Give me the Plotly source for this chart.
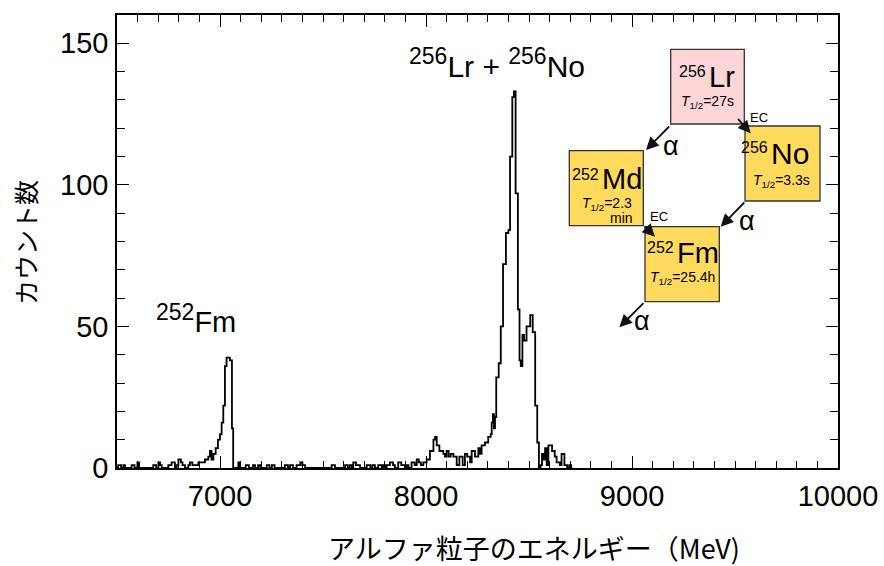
import plotly.graph_objects as go

# ---- data: step histogram (left bin edge in keV, counts) ----
energy_edges = [6500, 6506, 6520, 6531, 6539, 6571, 6585, 6599, 6607,
                6676, 6690, 6701, 6709, 6717, 6749, 6765, 6781, 6790, 6798, 6810, 6818, 6830,
                6846, 6854, 6866, 6895, 6927, 6943, 6951, 6959, 6968, 6979, 6990, 7000, 7008,
                7016, 7024, 7032, 7048, 7058, 7064,
                7089, 7097, 7125, 7140, 7160, 7170, 7185, 7195, 7227, 7240, 7252, 7265,
                7315, 7330, 7340, 7354, 7372, 7390, 7400, 7413, 7542, 7558, 7607, 7620,
                7630, 7640, 7647, 7660, 7680, 7712, 7730, 7740, 7752, 7768, 7785, 7793,
                7801, 7809, 7825, 7840, 7849, 7865, 7880, 7898, 7906, 7915, 7930, 7945,
                7955, 7965, 7975, 7987, 8003, 8019, 8036, 8044, 8052, 8065, 8084, 8092,
                8100, 8110, 8120, 8133, 8149, 8162, 8178, 8189, 8200, 8214, 8222, 8238,
                8254, 8262, 8270, 8286, 8302, 8314, 8319, 8325, 8330, 8335, 8341, 8353,
                8363, 8374, 8388, 8400, 8408, 8419, 8427, 8435, 8446, 8454, 8460, 8468,
                8476, 8488, 8506, 8518, 8530, 8540, 8548, 8556, 8563, 8570, 8578, 8586,
                8594, 8612, 8625, 8634, 8650, 8658, 8672, 8685, 8695, 8705]
counts = [0, 1, 0, 1, 0, 1, 0, 2, 0,
          1, 0, 2, 1, 0, 1, 2, 0, 1, 3, 2, 1, 0,
          1, 2, 1, 2, 3, 4, 6, 3, 5, 7, 10, 12, 16,
          22, 36, 39, 38, 14, 0,
          2, 0, 1, 0, 1, 0, 1, 0, 1, 0, 1, 0,
          1, 0, 1, 0, 1, 2, 1, 0, 1, 0, 1, 0,
          1, 0, 2, 1, 0, 1, 0, 1, 0, 1, 0, 1,
          0, 1, 2, 1, 0, 2, 1, 0, 1, 0, 2, 1,
          3, 2, 1, 2, 3, 6, 10, 11, 8, 6, 5, 4,
          6, 4, 5, 4, 1, 4, 1, 5, 4, 2, 6, 4,
          7, 5, 8, 9, 11, 12, 16, 19, 14, 18, 32, 37,
          50, 72, 83, 84, 110, 131, 133, 97, 56, 38, 36, 47,
          45, 50, 54, 48, 22, 9, 0, 1, 5, 3, 7, 1,
          8, 6, 4, 2, 1, 5, 1, 0, 1, 0]
last_edge = 8710

x_ticks = [7000, 8000, 9000, 10000]
y_ticks = [0, 50, 100, 150]

W, H = 884, 566
L, R, T, B = 117, 838, 15, 468


def px(x):
    return (x - L) / (R - L)


def py(y):
    return (B - y) / (B - T)


FONT = "Liberation Sans, Arial, sans-serif"
JP = "Noto Sans CJK JP, sans-serif"

fig = go.Figure()
fig.add_trace(go.Scatter(
    x=energy_edges + [last_edge], y=counts + [0],
    mode="lines", line=dict(color="black", width=1.8, shape="hv"),
    hoverinfo="skip", showlegend=False))

fig.update_layout(
    width=W, height=H, plot_bgcolor="white", paper_bgcolor="white",
    margin=dict(l=L, r=W - R, t=T, b=H - B, autoexpand=False),
    font=dict(family=FONT, color="black"),
    showlegend=False,
)
fig.update_xaxes(range=[6500, 10000], tickvals=x_ticks, ticktext=[str(v) for v in x_ticks],
                 ticks="inside", ticklen=12, tickwidth=1.2, tickcolor="black",
                 minor=dict(dtick=100, ticks="inside", ticklen=7, tickwidth=1.2, tickcolor="black"),
                 showline=True, linecolor="black", linewidth=1.5, mirror="allticks",
                 showgrid=False, zeroline=False, tickfont=dict(size=29, family=FONT),
                 ticklabelstandoff=1, automargin=False)
fig.update_yaxes(range=[0, 160], tickvals=y_ticks, ticktext=[str(v) for v in y_ticks],
                 ticks="inside", ticklen=12, tickwidth=1.2, tickcolor="black",
                 minor=dict(dtick=10, ticks="inside", ticklen=8, tickwidth=1.2, tickcolor="black"),
                 showline=True, linecolor="black", linewidth=1.5, mirror="allticks",
                 showgrid=False, zeroline=False, tickfont=dict(size=29, family=FONT),
                 ticklabelstandoff=1, automargin=False)

ann = []
# axis titles
ann.append(dict(x=px(534), y=py(547), xref="paper", yref="paper", showarrow=False,
                text="アルファ粒子のエネルギー（MeV)", font=dict(size=27, family=JP),
                xanchor="center", yanchor="middle"))
ann.append(dict(x=px(25), y=py(243), xref="paper", yref="paper", showarrow=False,
                text="カウント数", textangle=-90, font=dict(size=25, family=JP),
                xanchor="center", yanchor="middle"))
# peak labels
SUP = '<sup><span style="font-size:23px">%s</span></sup>'
ann.append(dict(x=px(196), y=py(318), xref="paper", yref="paper", showarrow=False,
                text=SUP % "252" + "Fm", font=dict(size=29), xanchor="center", yanchor="middle"))
ann.append(dict(x=px(497), y=py(63), xref="paper", yref="paper", showarrow=False,
                text=SUP % "256" + "Lr + " + SUP % "256" + "No", font=dict(size=30),
                xanchor="center", yanchor="middle"))

shapes = []
boxes = [
    # x0, y0, x1, y1, fill, mass, symbol, split x, symbol y, symbol size, halflife lines
    (670.7, 49.3, 744.3, 124.0, "#FFD6D6", "256", "Lr", 707, 77, 29, [("<i>T</i><sub>1/2</sub>=27s", 707, 102)]),
    (745.0, 126.0, 820.0, 201.0, "#FFDA5C", "256", "No", 769, 153, 30, [("<i>T</i><sub>1/2</sub>=3.3s", 781, 181)]),
    (569.3, 150.7, 643.3, 225.7, "#FFDA5C", "252", "Md", 600, 179, 29, [("<i>T</i><sub>1/2</sub>=2.3", 607, 204), ("min", 621, 218)]),
    (645.0, 226.7, 719.3, 301.7, "#FFDA5C", "252", "Fm", 675, 253, 29, [("<i>T</i><sub>1/2</sub>=25.4h", 682, 278)]),
]
for x0, y0, x1, y1, fill, mass, sym, sx, sy, ss, hl in boxes:
    shapes.append(dict(type="rect", xref="paper", yref="paper",
                       x0=px(x0), x1=px(x1), y0=py(y1), y1=py(y0),
                       fillcolor=fill, line=dict(color="#333333", width=1.3), layer="above"))
    ann.append(dict(x=px(sx), y=py(sy), xref="paper", yref="paper", showarrow=False,
                    text=sym, font=dict(size=ss), xanchor="left", yanchor="middle"))
    ann.append(dict(x=px(sx + 1), y=py(sy - 5), xref="paper", yref="paper", showarrow=False,
                    text=mass, font=dict(size=16), xanchor="right", yanchor="middle"))
    for t, hx, hy in hl:
        ann.append(dict(x=px(hx), y=py(hy), xref="paper", yref="paper", showarrow=False,
                        text=t, font=dict(size=14), xanchor="center", yanchor="middle"))

arrows = [
    # head x,y ; tail x,y
    ((646, 150), (670.7, 125)),
    ((750.7, 133.3), (736.7, 117.3)),
    ((720.7, 226.7), (745.7, 201)),
    ((655, 236.7), (643.3, 225)),
    ((619.3, 327.3), (645, 301.7)),
]
for (hx, hy), (tx, ty) in arrows:
    ann.append(dict(x=px(hx), y=py(hy), xref="paper", yref="paper",
                    ax=tx - hx, ay=ty - hy, showarrow=True, text="",
                    arrowhead=2, arrowsize=1.4, arrowwidth=1.8, arrowcolor="#111111",
                    standoff=0, startstandoff=0))

for t, x, y, s in [("α", 671, 146, 27), ("α", 747, 221, 27), ("α", 642, 321, 27),
                   ("EC", 759, 117, 13), ("EC", 659, 216, 13)]:
    ann.append(dict(x=px(x), y=py(y), xref="paper", yref="paper", showarrow=False,
                    text=t, font=dict(size=s), xanchor="center", yanchor="middle"))

fig.update_layout(annotations=ann, shapes=shapes)
fig.write_html("out.html", config={"displayModeBar": False},
               post_script="document.body.style.margin='0';document.body.style.overflow='hidden';")
